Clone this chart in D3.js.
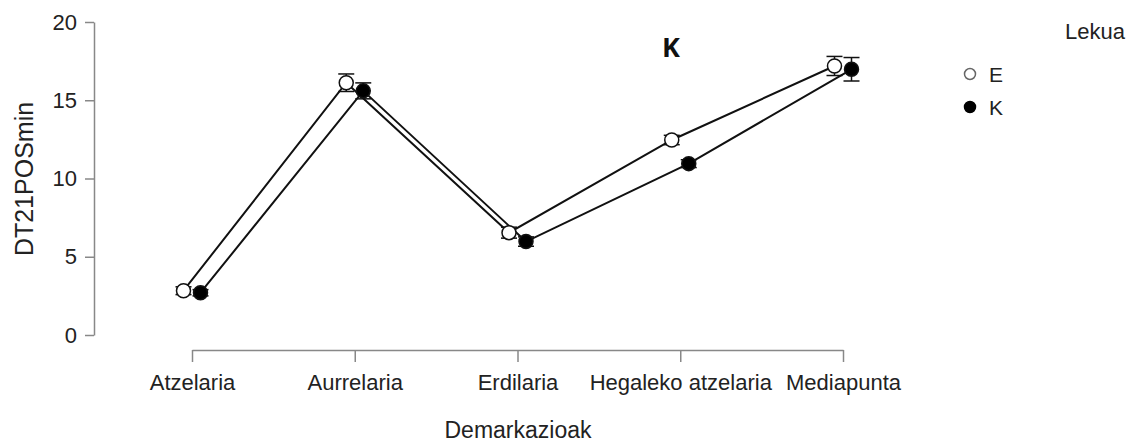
<!DOCTYPE html>
<html>
<head>
<meta charset="utf-8">
<script src="https://cdn.jsdelivr.net/npm/d3@7"></script>
<style>
  body { margin: 0; background: #fff; }
  svg { font-family: "Liberation Sans", Arial, sans-serif; }
</style>
</head>
<body>
<div id="main"></div>
<script>
// data
const categories = ['Atzelaria', 'Aurrelaria', 'Erdilaria', 'Hegaleko atzelaria', 'Mediapunta'];
const groups = ['E', 'K'];
const meanE = [2.83, 16.12, 6.54, 12.46, 17.19];
const meanK = [2.70, 15.60, 5.97, 10.95, 16.98];
const seE = [0.25, 0.56, 0.35, 0.3, 0.61];
const seK = [0.2, 0.51, 0.3, 0.25, 0.75];
const yTicks = [0, 5, 10, 15, 20];

const width = 1130;
const height = 444;

const svg = d3.select('#main').append('svg')
    .attr('width', width)
    .attr('height', height);

const x = d3.scalePoint()
    .domain(categories)
    .range([192, 843]);
const y = d3.scaleLinear()
    .domain([0, 20])
    .range([335, 22]);
const dodge = {E: -8.5, K: 8.5};

// y axis
const yAxis = svg.append('g')
    .attr('transform', 'translate(94,0)')
    .call(d3.axisLeft(y).tickValues(yTicks).tickSize(9).tickSizeOuter(0).tickPadding(8));
yAxis.select('.domain').attr('stroke', '#888').attr('stroke-width', 1.5);
yAxis.selectAll('.tick line').attr('stroke', '#888').attr('stroke-width', 1.5);
yAxis.selectAll('.tick text').attr('font-size', 22).attr('fill', '#222');

// x axis
const xAxis = svg.append('g')
    .attr('transform', 'translate(0,350)')
    .call(d3.axisBottom(x).tickSize(12).tickSizeOuter(0).tickPadding(12));
xAxis.select('.domain').attr('stroke', '#888').attr('stroke-width', 1.5);
xAxis.selectAll('.tick line').attr('stroke', '#888').attr('stroke-width', 1.5);
xAxis.selectAll('.tick text').attr('font-size', 22).attr('fill', '#222');

svg.append('text')
    .attr('x', 518)
    .attr('y', 438)
    .attr('text-anchor', 'middle')
    .attr('font-size', 23)
    .attr('fill', '#222')
    .text('Demarkazioak');

svg.append('text')
    .attr('transform', 'translate(33,179) rotate(-90)')
    .attr('text-anchor', 'middle')
    .attr('font-size', 25)
    .attr('fill', '#222')
    .text('DT21POSmin');

const series = [
    {key: 'E', means: meanE, ses: seE, fill: '#fff'},
    {key: 'K', means: meanK, ses: seK, fill: '#000'}
];

const line = d3.line()
    .x((d) => d.x)
    .y((d) => d.y);

const plot = svg.append('g');

series.forEach((s) => {
    const pts = categories.map((c, i) => ({
        x: x(c) + dodge[s.key],
        y: y(s.means[i]),
        lo: y(s.means[i] - s.ses[i]),
        hi: y(s.means[i] + s.ses[i])
    }));
    s.pts = pts;
    plot.append('path')
        .attr('fill', 'none')
        .attr('stroke', '#111')
        .attr('stroke-width', 2)
        .attr('d', line(pts));
});

series.forEach((s) => {
    const eb = plot.append('g').attr('stroke', '#111').attr('stroke-width', 1.5);
    s.pts.forEach((p) => {
        eb.append('line').attr('x1', p.x).attr('x2', p.x).attr('y1', p.lo).attr('y2', p.hi);
        eb.append('line').attr('x1', p.x - 8).attr('x2', p.x + 8).attr('y1', p.lo).attr('y2', p.lo);
        eb.append('line').attr('x1', p.x - 8).attr('x2', p.x + 8).attr('y1', p.hi).attr('y2', p.hi);
    });
});

series.forEach((s) => {
    plot.selectAll(null)
        .data(s.pts)
        .enter()
        .append('circle')
        .attr('cx', (d) => d.x)
        .attr('cy', (d) => d.y)
        .attr('r', 7)
        .attr('fill', s.fill)
        .attr('stroke', '#111')
        .attr('stroke-width', 1.5);
});

// title
svg.append('text')
    .attr('x', 671)
    .attr('y', 57)
    .attr('text-anchor', 'middle')
    .attr('font-size', 27)
    .attr('font-weight', 'bold')
    .attr('font-family', 'Open Sans, Liberation Sans, sans-serif')
    .attr('fill', '#111')
    .text('K');

// legend
svg.append('text')
    .attr('x', 1065)
    .attr('y', 39)
    .attr('font-size', 22)
    .attr('fill', '#222')
    .text('Lekua');

const legend = svg.append('g')
    .selectAll('g')
    .data(groups)
    .enter()
    .append('g')
    .attr('transform', (d, i) => `translate(970,${74 + i * 33})`);
legend.append('circle')
    .attr('r', 5.5)
    .attr('fill', (d) => d === 'E' ? '#fff' : '#000')
    .attr('stroke', (d) => d === 'E' ? '#666' : '#000')
    .attr('stroke-width', 1.5);
legend.append('text')
    .attr('x', 19)
    .attr('y', 8)
    .attr('font-size', 21)
    .attr('fill', '#222')
    .text((d) => d);
</script>
</body>
</html>
